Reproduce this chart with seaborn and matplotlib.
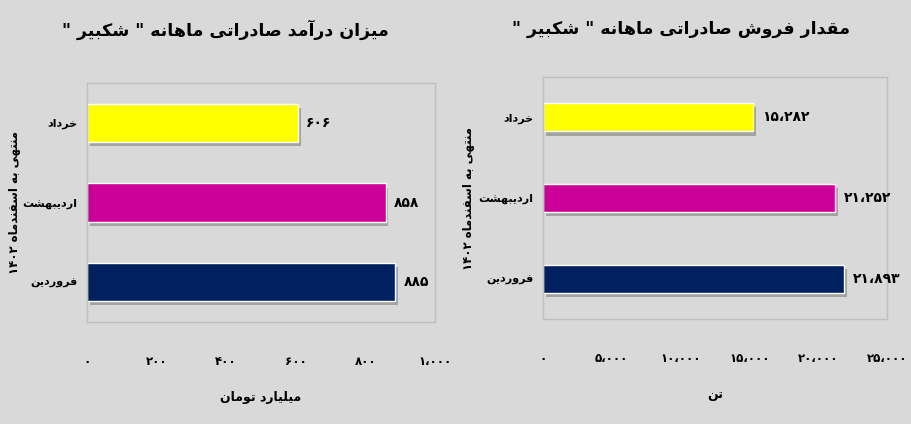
import re
import pandas as pd
import matplotlib
matplotlib.use("Agg")
import matplotlib.pyplot as plt
import matplotlib.patheffects as pe
from matplotlib.ticker import FuncFormatter
import seaborn as sns

# Data
months = ["خرداد", "اردیبهشت", "فروردین"]
revenue = [606, 858, 885]          # میلیارد تومان
sales = [15282, 21252, 21893]      # تن
bar_colors = ["#FFFF00", "#CC0099", "#002060"]

title_left = 'میزان درآمد صادراتی ماهانه " شکبیر "'
title_right = 'مقدار فروش صادراتی ماهانه " شکبیر "'
ylabel_text = "منتهی به اسفندماه ۱۴۰۲"
xlabel_left = "میلیارد تومان"
xlabel_right = "تن"

BG = "#D9D9D9"
FRAME = "#BFBFBF"

# Arabic/Persian contextual forms: isolated, final, initial, medial
FORMS = {
    "ا": ("\uFE8D", "\uFE8E", None, None),
    "آ": ("\uFE81", "\uFE82", None, None),
    "ب": ("\uFE8F", "\uFE90", "\uFE91", "\uFE92"),
    "ت": ("\uFE95", "\uFE96", "\uFE97", "\uFE98"),
    "خ": ("\uFEA5", "\uFEA6", "\uFEA7", "\uFEA8"),
    "د": ("\uFEA9", "\uFEAA", None, None),
    "ر": ("\uFEAD", "\uFEAE", None, None),
    "ز": ("\uFEAF", "\uFEB0", None, None),
    "س": ("\uFEB1", "\uFEB2", "\uFEB3", "\uFEB4"),
    "ش": ("\uFEB5", "\uFEB6", "\uFEB7", "\uFEB8"),
    "ص": ("\uFEB9", "\uFEBA", "\uFEBB", "\uFEBC"),
    "ف": ("\uFED1", "\uFED2", "\uFED3", "\uFED4"),
    "ق": ("\uFED5", "\uFED6", "\uFED7", "\uFED8"),
    "ل": ("\uFEDD", "\uFEDE", "\uFEDF", "\uFEE0"),
    "م": ("\uFEE1", "\uFEE2", "\uFEE3", "\uFEE4"),
    "ن": ("\uFEE5", "\uFEE6", "\uFEE7", "\uFEE8"),
    "ه": ("\uFEE9", "\uFEEA", "\uFEEB", "\uFEEC"),
    "و": ("\uFEED", "\uFEEE", None, None),
    "ی": ("\uFBFC", "\uFBFD", "\uFBFE", "\uFBFF"),
    "ک": ("\uFB8E", "\uFB8F", "\uFB90", "\uFB91"),
}
DIGITS = "۰-۹0-9،,"


def shape(text):
    # pick joined glyph forms, then lay out right-to-left
    out = []
    for i, c in enumerate(text):
        if c not in FORMS:
            out.append(c)
            continue
        f = FORMS[c]
        prev = text[i - 1] if i > 0 else None
        nxt = text[i + 1] if i + 1 < len(text) else None
        jp = prev in FORMS and FORMS[prev][2] is not None
        jn = f[2] is not None and nxt in FORMS
        if jp and jn:
            out.append(f[3])
        elif jp:
            out.append(f[1])
        elif jn:
            out.append(f[2])
        else:
            out.append(f[0])
    runs = re.findall(f"[{DIGITS}]+|[^{DIGITS}]+", "".join(out))
    return "".join(r if re.match(f"[{DIGITS}]", r) else r[::-1] for r in reversed(runs))


def fa_num(v):
    return f"{int(round(v)):,}".translate(str.maketrans("0123456789,", "۰۱۲۳۴۵۶۷۸۹،"))


sns.set_style("white")
plt.rcParams["font.family"] = ["DejaVu Sans"]
plt.rcParams["font.weight"] = "bold"
plt.rcParams["text.color"] = "black"
plt.rcParams["xtick.color"] = "black"
plt.rcParams["ytick.color"] = "black"
plt.rcParams["axes.labelcolor"] = "black"

fig = plt.figure(figsize=(9.12, 4.24), dpi=100, facecolor=BG)
ax1 = fig.add_axes([87 / 912, 1 - 322 / 424, 348 / 912, 239 / 424])
ax2 = fig.add_axes([543 / 912, 1 - 319 / 424, 344 / 912, 242 / 424])

df = pd.DataFrame({"month": months, "revenue": revenue, "sales": sales})
shadow = [pe.SimplePatchShadow(offset=(2, -3), shadow_rgbFace="#7F7F7F", alpha=0.6), pe.Normal()]

panels = [
    (ax1, "revenue", 0.48, (0, 1000), [0, 200, 400, 600, 800, 1000], xlabel_left),
    (ax2, "sales", 0.35, (0, 25000), [0, 5000, 10000, 15000, 20000, 25000], xlabel_right),
]
for ax, col, width, xlim, ticks, xlabel in panels:
    sns.barplot(data=df, x=col, y="month", hue="month", palette=bar_colors,
                width=width, legend=False, ax=ax, saturation=1)
    ax.set_facecolor(BG)
    for p in ax.patches:
        p.set_path_effects(shadow)
    for cont in ax.containers:
        ax.bar_label(cont, labels=[fa_num(v) for v in cont.datavalues],
                     padding=6, fontsize=10, fontweight="bold")
    ax.set_xlim(*xlim)
    ax.set_ylim(2.5, -0.5)
    ax.set_xticks(ticks)
    ax.xaxis.set_major_formatter(FuncFormatter(lambda v, pos: fa_num(v)))
    ax.set_yticks(range(len(months)))
    ax.set_yticklabels([shape(m) for m in months])
    ax.tick_params(axis="x", length=0, pad=24, labelsize=8.5)
    ax.tick_params(axis="y", length=0, pad=7, labelsize=8)
    ax.set_xlabel(shape(xlabel), fontsize=9, fontweight="bold", labelpad=16)
    ax.set_ylabel("")
    for s in ax.spines.values():
        s.set_color(FRAME)
        s.set_linewidth(1)

fig.text(225 / 912, 1 - 30 / 424, shape(title_left), ha="center", va="center",
         fontsize=12.5, fontweight="bold")
fig.text(681 / 912, 1 - 29 / 424, shape(title_right), ha="center", va="center",
         fontsize=12.5, fontweight="bold")
fig.text(15 / 912, 1 - 203 / 424, shape(ylabel_text), rotation=90, ha="center",
         va="center", fontsize=8.5, fontweight="bold")
fig.text(469 / 912, 1 - 198 / 424, shape(ylabel_text), rotation=90, ha="center",
         va="center", fontsize=8.5, fontweight="bold")

fig.savefig("out.png", dpi=100, facecolor=BG)
